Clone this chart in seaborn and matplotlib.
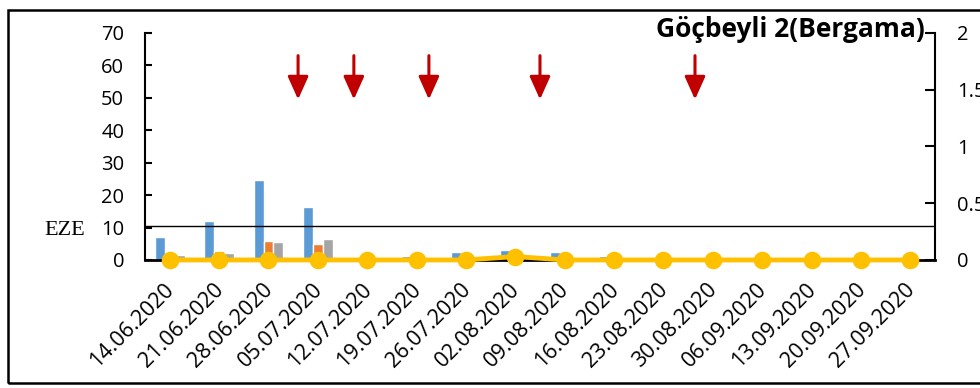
import matplotlib
matplotlib.use("Agg")
import matplotlib.pyplot as plt
from matplotlib.patches import Rectangle
from matplotlib.transforms import ScaledTranslation
import seaborn as sns
import pandas as pd

# Sampling dates (weekly)
dates = ["14.06.2020", "21.06.2020", "28.06.2020", "05.07.2020", "12.07.2020",
         "19.07.2020", "26.07.2020", "02.08.2020", "09.08.2020", "16.08.2020",
         "23.08.2020", "30.08.2020", "06.09.2020", "13.09.2020", "20.09.2020",
         "27.09.2020"]

# Primary-axis series (bars)
series_a = [7.2, 12.0, 24.8, 16.4, 0, 1.2, 2.5, 3.1, 2.6, 1.2, 0, 0, 0, 0, 0, 0]
series_b = [1.0, 2.9, 6.0, 5.0, 0, 0, 0, 0, 0, 0, 0, 0, 0, 0, 0, 0]
series_c = [1.5, 2.2, 5.4, 6.5, 0, 0, 0, 0, 0, 0, 0, 0, 0, 0, 0, 0]
series_names = ["A", "B", "C"]

# Secondary-axis series (line)
series_line = [0, 0, 0, 0, 0, 0, 0, 0.03, 0, 0, 0, 0, 0, 0, 0, 0]

# Economic threshold level
eze_level = 10.5

# Treatment (spray) times, in category units
spray_positions = [2.6, 3.73, 5.25, 7.5, 10.64]

title = "Göçbeyli 2(Bergama)"

sns.set_theme(style="white")
plt.rcParams["font.family"] = ["Open Sans", "DejaVu Sans"]
plt.rcParams["text.color"] = "black"
plt.rcParams["xtick.color"] = "black"
plt.rcParams["ytick.color"] = "black"

fig = plt.figure(figsize=(9.8, 3.88), dpi=100)
ax = fig.add_axes([0.148, 0.330, 0.806, 0.585])

df = pd.DataFrame({
    "date": dates * 3,
    "value": series_a + series_b + series_c,
    "series": [series_names[0]] * len(dates) + [series_names[1]] * len(dates)
              + [series_names[2]] * len(dates),
})

palette = ["#5B9BD5", "#ED7D31", "#A5A5A5"]
sns.barplot(data=df, x="date", y="value", hue="series", order=dates,
            palette=palette, width=0.6, ax=ax, legend=False, saturation=1)

ax.set_ylim(0, 70)
ax.set_yticks(range(0, 71, 10))
ax.set_xlim(-0.5, len(dates) - 0.5)
ax.set_xlabel("")
ax.set_ylabel("")
ax.axhline(eze_level, color="black", lw=1.0, zorder=1)

for side in ["top", "right"]:
    ax.spines[side].set_visible(False)
ax.spines["left"].set_color("black")
ax.spines["left"].set_linewidth(1.5)
ax.spines["bottom"].set_color("black")
ax.spines["bottom"].set_linewidth(2.0)

ax.tick_params(axis="y", direction="in", length=5, width=1.5, color="black",
               labelsize=14.5, labelcolor="black", pad=15, left=True)
ax.tick_params(axis="x", length=0, labelsize=15.5, labelcolor="black", pad=14)
shift = ScaledTranslation(-6 / 100, 0, fig.dpi_scale_trans)
for lab in ax.get_xticklabels():
    lab.set_rotation(45)
    lab.set_ha("right")
    lab.set_rotation_mode("anchor")
    lab.set_transform(lab.get_transform() + shift)

# Treatment arrows
for xp in spray_positions:
    ax.annotate("", xy=(xp, 49.5), xytext=(xp, 63),
                arrowprops=dict(arrowstyle="-|>,head_width=0.45,head_length=1.0",
                                color="#C00000", lw=2.2, mutation_scale=14,
                                shrinkA=0, shrinkB=0))

ax.text(-0.076, eze_level - 1.3, "EZE", transform=ax.get_yaxis_transform(),
        ha="right", va="center", fontsize=16, color="black",
        family="Liberation Serif")

# Secondary axis with the line series
ax2 = ax.twinx()
sns.pointplot(x=dates, y=series_line, order=dates, ax=ax2, color="#FFC000",
              markers="o", markersize=10, linewidth=3.5)
for coll in ax2.collections + ax2.lines:
    coll.set_clip_on(False)
ax2.set_ylim(0, 2)
ax2.set_yticks([0, 0.5, 1, 1.5, 2])
ax2.set_yticklabels(["0", "0.5", "1", "1.5", "2"])
ax2.set_xlim(-0.5, len(dates) - 0.5)
ax2.set_ylabel("")
for side in ["top", "left", "bottom"]:
    ax2.spines[side].set_visible(False)
ax2.spines["right"].set_color("black")
ax2.spines["right"].set_linewidth(1.5)
ax2.tick_params(axis="y", direction="in", length=7, width=1.5, color="black",
                labelsize=14.5, labelcolor="black", pad=16, right=True)

fig.text(0.807, 0.923, title, ha="center", va="center", fontsize=19,
         fontweight="bold", color="black")

# Chart border
fig.patches.append(Rectangle((0.008, 0.013), 1.2, 0.961, transform=fig.transFigure,
                             fill=False, edgecolor="black", lw=1.8))

fig.savefig("out.png", dpi=100)
